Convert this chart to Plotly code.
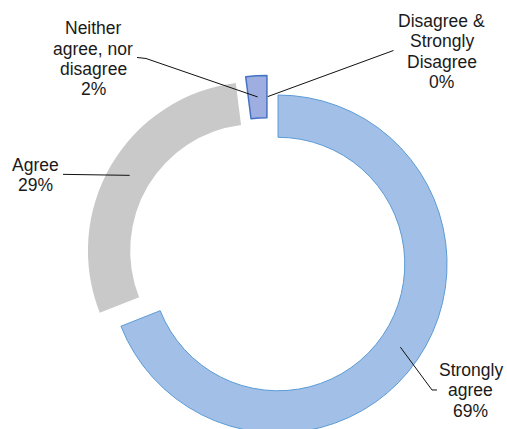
import math
import plotly.graph_objects as go

# Survey responses, clockwise from 12 o'clock
categories = ["Strongly agree", "Agree", "Neither agree, nor disagree",
              "Disagree & Strongly Disagree"]
values = [69, 29, 2, 0]
label_lines = [["Strongly", "agree"], ["Agree"],
               ["Neither", "agree, nor", "disagree"],
               ["Disagree &", "Strongly", "Disagree"]]

fill_colors = ["#a2c0e7", "#c9c9c9", "#9eaee0", "#8faadc"]
edge_colors = ["#5b9bd5", "#c9c9c9", "#4472c4", "#4472c4"]
edge_widths = [1, 0, 1.5, 0]

W, H = 507, 440
PULL = 0.074          # exploded slices
HOLE = 0.75
CX, CY = 267.7, 257.0  # ring centre in px
R = 169.0              # outer radius in px
BOX = R * (1 + PULL)

FONT = dict(family="Liberation Sans, Arial, sans-serif", size=17.5, color="#1a1a1a")
PITCH = 20.4           # label line spacing in px

fig = go.Figure(go.Pie(
    labels=categories,
    values=values,
    sort=False,
    direction="clockwise",
    rotation=0,
    hole=HOLE,
    pull=PULL,
    textinfo="none",
    hoverinfo="label+percent",
    marker=dict(colors=fill_colors,
                line=dict(color=edge_colors, width=edge_widths)),
    domain=dict(x=[(CX - BOX) / W, (CX + BOX) / W],
                y=[1 - (CY + BOX) / H, 1 - (CY - BOX) / H]),
    showlegend=False,
))


def px(x, y):
    return x / W, 1 - y / H


def slice_anchor(i):
    """Mid-angle, mid-ring point of slice i (after the pull offset), in px."""
    total = sum(values)
    start = sum(values[:i]) / total * 360
    mid = math.radians(start + values[i] / total * 360 / 2)
    ox = CX + PULL * R * math.sin(mid)
    oy = CY - PULL * R * math.cos(mid)
    rm = R * (1 + HOLE) / 2
    return ox + rm * math.sin(mid), oy - rm * math.cos(mid)


def add_label(i, x, y_top):
    lines = label_lines[i] + [f"{values[i]}%"]
    for k, txt in enumerate(lines):
        ax, ay = px(x, y_top + k * PITCH)
        fig.add_annotation(x=ax, y=ay, xref="paper", yref="paper", text=txt,
                           showarrow=False, font=FONT,
                           xanchor="center", yanchor="middle")


def leader(points):
    d = ""
    for k, (x, y) in enumerate(points):
        u, v = px(x, y)
        d += ("M" if k == 0 else "L") + f"{u:.5f},{v:.5f} "
    fig.add_shape(type="path", path=d.strip(), xref="paper", yref="paper",
                  line=dict(color="#111111", width=1))


# Strongly agree
add_label(0, 470.7, 370)
e = slice_anchor(0)
leader([e, (432, 390), (437, 390)])

# Agree
add_label(1, 35.5, 165)
e = slice_anchor(1)
leader([(63, e[1] - 1), e])

# Neither
add_label(2, 93, 28.3)
e = slice_anchor(2)
leader([(137, 57.5), (146, 58.5), e])

# Disagree & Strongly Disagree
add_label(3, 441.7, 21)
e = slice_anchor(3)
leader([(393.5, 50.5), e])

fig.update_layout(
    width=W, height=H,
    margin=dict(l=0, r=0, t=0, b=0),
    paper_bgcolor="white",
    plot_bgcolor="white",
)

fig.write_html("out.html")
